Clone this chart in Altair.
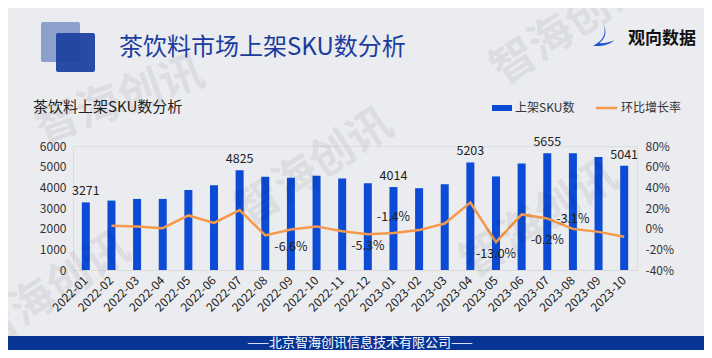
import altair as alt
import pandas as pd

# ---------------- data ----------------
months = ["2022-01", "2022-02", "2022-03", "2022-04", "2022-05", "2022-06",
          "2022-07", "2022-08", "2022-09", "2022-10", "2022-11", "2022-12",
          "2023-01", "2023-02", "2023-03", "2023-04", "2023-05", "2023-06",
          "2023-07", "2023-08", "2023-09", "2023-10"]
sku = [3271, 3360, 3440, 3440, 3870, 4100, 4825, 4507, 4465, 4555, 4430, 4195,
       4014, 3958, 4155, 5203, 4527, 5150, 5655, 5644, 5469, 5041]
rate = [None, 2.9, 2.0, 0.5, 12.8, 5.5, 18.0, -6.6, -0.8, 2.2, -2.5, -5.3,
        -4.3, -1.4, 5.0, 25.2, -13.0, 13.8, 9.8, -0.2, -3.1, -7.8]

bar_label_months = ["2022-01", "2022-07", "2023-01", "2023-04", "2023-07", "2023-10"]

rate_below_months = ["2022-09", "2022-12", "2023-05", "2023-07"]
rate_below_values = [-6.6, -5.3, -13.0, -0.2]
rate_above_months = ["2023-01", "2023-08"]
rate_above_values = [-1.4, -3.1]

sku_ticks = [0, 1000, 2000, 3000, 4000, 5000, 6000]
rate_ticks = [-40, -20, 0, 20, 40, 60, 80]

header_title = "茶饮料市场上架SKU数分析"
chart_title = "茶饮料上架SKU数分析"
brand = "观向数据"
footer = "——北京智海创讯信息技术有限公司——"
watermark = "智海创讯"
legend_bar = "上架SKU数"
legend_line = "环比增长率"

FONT = "Noto Sans CJK SC"
BLUE = "#0b4bd6"
ORANGE = "#f6994a"

df = pd.DataFrame({"month": months, "sku": sku, "rate": rate})
df_barlab = df[df["month"].isin(bar_label_months)].copy()
df_barlab["lab"] = df_barlab["sku"].astype(str)
df_below = pd.DataFrame({"month": rate_below_months, "rate": rate_below_values})
df_below["lab"] = [f"{v:.1f}%" for v in rate_below_values]
df_above = pd.DataFrame({"month": rate_above_months, "rate": rate_above_values})
df_above["lab"] = [f"{v:.1f}%" for v in rate_above_values]

one = pd.DataFrame({"k": [0]})

xaxis = alt.Axis(labelAngle=-45, labelAlign="right", labelBaseline="middle",
                 labelPadding=8, ticks=False, domain=True,
                 domainColor="#d9d9d9", labelColor="#222222",
                 labelFontSize=12, labelFont=FONT)
xenc = alt.X("month:N", title=None,
             scale=alt.Scale(paddingInner=0, paddingOuter=0), axis=xaxis)

sku_scale = alt.Scale(domain=[0, 6000], nice=False)
rate_scale = alt.Scale(domain=[-40, 80], nice=False)
sku_axis = alt.Axis(values=sku_ticks, format="d", grid=False, domain=False, ticks=False,
                    labelPadding=7, labelColor="#333333", labelFontSize=12,
                    labelFont=FONT)
rate_axis = alt.Axis(orient="right", values=rate_ticks, grid=False, domain=False,
                     ticks=False, labelPadding=8, labelAlign="left",
                     labelColor="#333333", labelFontSize=12, labelFont=FONT,
                     labelExpr="datum.value + '%'")

y_sku = alt.Y("sku:Q", scale=sku_scale, title=None, axis=sku_axis)
y_rate = alt.Y("rate:Q", scale=rate_scale, title=None, axis=rate_axis)

bars = alt.Chart(df).mark_bar(size=8, color=BLUE).encode(x=xenc, y=y_sku)
bar_text = alt.Chart(df_barlab).mark_text(
    baseline="bottom", dy=-4, fontSize=12.5, font=FONT, color="#222222").encode(
    x=xenc, y=y_sku, text="lab:N")

line = alt.Chart(df).mark_line(color=ORANGE, strokeWidth=2.5).encode(x=xenc, y=y_rate)
below_text = alt.Chart(df_below).mark_text(
    baseline="middle", dy=11.5, fontSize=12.5, font=FONT, color="#222222").encode(
    x=xenc, y=y_rate, text="lab:N")
above_text = alt.Chart(df_above).mark_text(
    baseline="middle", dy=-13, fontSize=12.5, font=FONT, color="#222222").encode(
    x=xenc, y=y_rate, text="lab:N")

left_layer = alt.layer(bars, bar_text)
right_layer = alt.layer(line, below_text, above_text)
main = alt.layer(left_layer, right_layer).resolve_scale(y="independent")


def rect(x1, x2, y1, y2, color, opacity=1.0, radius=0):
    return alt.Chart(one).mark_rect(color=color, opacity=opacity, cornerRadius=radius).encode(
        x=alt.value(x1), x2=alt.value(x2), y=alt.value(y1), y2=alt.value(y2))


def label(txt, x, y, size, color, align="left", weight="normal", angle=0, opacity=1.0):
    return alt.Chart(one).mark_text(
        text=txt, align=align, baseline="middle", fontSize=size, font=FONT,
        color=color, fontWeight=weight, angle=angle, opacity=opacity).encode(
        x=alt.value(x), y=alt.value(y))


decor = [
    # header squares
    rect(-32, 7, -124, -84, "#8c9fcd", 1.0, 2),
    rect(-17, 22, -113, -74, "#1d43a0", 0.95, 2),
    label(header_title, 46, -98, 24, "#1b3c9e"),
    label(brand, 555, -107, 17, "#111111", weight="bold"),
    alt.Chart(one).mark_point(
        shape="M 0 -1 C 0.3 -0.4 0.2 0.5 -0.9 0.95 C 0 1 0.6 0.8 1 0.45 "
              "C 0.5 0.65 0.1 0.72 -0.35 0.72 C 0.3 0.3 0.35 -0.4 0 -1 Z",
        filled=True, size=520, color="#1a4fd0", opacity=1).encode(
        x=alt.value(530), y=alt.value(-111)),
    # subtitle
    label(chart_title, -40, -39, 15, "#222222"),
    # legend
    rect(419, 439, -41, -35, BLUE),
    label(legend_bar, 442, -38, 12, "#333333"),
    alt.Chart(one).mark_rule(color=ORANGE, strokeWidth=2.5).encode(
        x=alt.value(523), x2=alt.value(544), y=alt.value(-38)),
    label(legend_line, 548, -38, 12, "#333333"),
    # footer
    rect(-73, 640, 190, 204, "#073495"),
    label(footer, 287, 197, 13, "#ffffff", align="center"),
]

marks = [
    label(watermark, 242, 22, 44, "#000000", align="center", weight="bold", angle=327, opacity=0.06),
    label(watermark, -21, 146, 44, "#000000", align="center", weight="bold", angle=327, opacity=0.06),
    label(watermark, 497, -119, 44, "#000000", align="center", weight="bold", angle=327, opacity=0.06),
    label(watermark, 467, 74, 44, "#000000", align="center", weight="bold", angle=327, opacity=0.06),
    label(watermark, 47, -45, 44, "#000000", align="center", weight="bold", angle=340, opacity=0.06),
]

chart = alt.layer(main, *decor, *marks).properties(
    width=564, height=124,
    padding={"left": 65, "top": 138, "right": 67, "bottom": 80},
    autosize=alt.AutoSizeParams(type="none"),
    background="#ebecf0",
).configure_view(stroke=None).configure(font=FONT)

chart.save("out.html", embed_options={"renderer": "svg", "actions": False})
